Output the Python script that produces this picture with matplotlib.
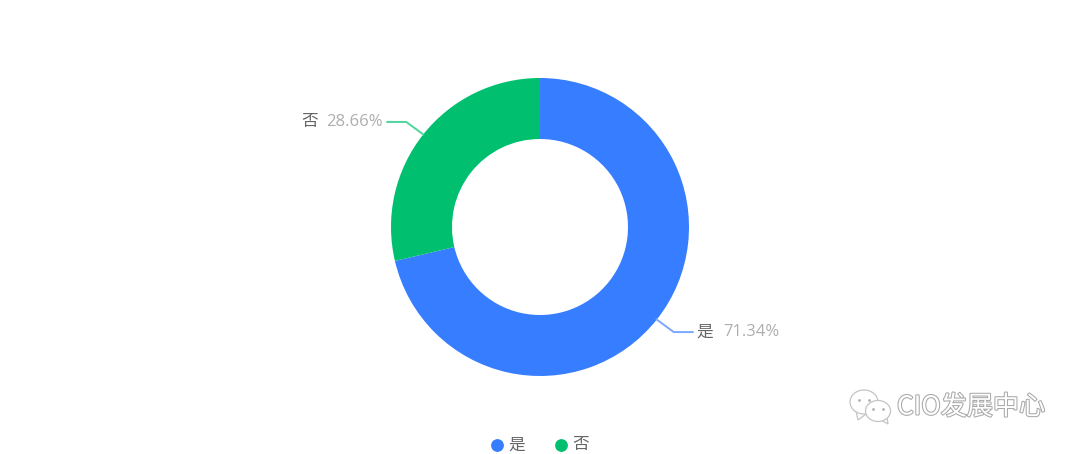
import numpy as np
import matplotlib
matplotlib.use("Agg")
import matplotlib.pyplot as plt
import matplotlib.patheffects as pe
from matplotlib.patches import Ellipse, Polygon

plt.rcParams['font.family'] = ['Noto Sans CJK SC', 'DejaVu Sans']

labels = ["是", "否"]
values = [71.34, 28.66]
colors = ["#377DFF", "#00C070"]
line_colors = ["#7AA8FF", "#4FD49B"]
watermark = "CIO发展中心"

fig = plt.figure(figsize=(10.8, 4.54), dpi=100)
ax = fig.add_axes([0, 0, 1, 1])
ax.set_xlim(0, 1080)
ax.set_ylim(454, 0)
ax.axis("off")

cx, cy, R, r = 540, 227, 149, 88

# y axis is flipped, so counterclock here looks clockwise on screen
wedges, _ = ax.pie(values, colors=colors, center=(cx, cy), radius=R,
                   startangle=-90, counterclock=True,
                   wedgeprops=dict(width=R - r, linewidth=0), frame=False)
ax.set_aspect("equal")
ax.set_xlim(0, 1080)
ax.set_ylim(454, 0)

# leader lines and labels
ang = 90.0
for name, val, lc in zip(labels, values, line_colors):
    mid = np.radians(ang - val * 3.6 / 2)
    ang -= val * 3.6
    px, py = cx + R * np.cos(mid), cy - R * np.sin(mid)
    sx = np.sign(np.cos(mid))
    qx, qy = px + 17 * sx, py + 12.5 * np.sign(-np.sin(mid))
    ax.plot([px, qx, qx + 19 * sx], [py, qy, qy], color=lc, lw=1.4, zorder=1)
    pct = f"{val:.2f}%"
    if sx > 0:
        ax.text(qx + 23, qy, name, fontsize=12, color="#666666", va="center", ha="left")
        ax.text(qx + 49, qy, pct, fontsize=12, color="#AEAEAE", va="center", ha="left",
                family=["Open Sans", "DejaVu Sans"])
    else:
        ax.text(qx - 23, qy, pct, fontsize=12, color="#AEAEAE", va="center", ha="right",
                family=["Open Sans", "DejaVu Sans"])
        ax.text(qx - 88, qy, name, fontsize=12, color="#666666", va="center", ha="right")

# legend
for x, name, c in zip([497, 561], labels, colors):
    ax.scatter([x], [445], s=85, color=c, linewidths=0, zorder=3)
    ax.text(x + 11, 445, name, fontsize=12, color="#666666", va="center", ha="left")

# watermark
fx = [pe.withStroke(linewidth=1.5, foreground="#A8A8A8")]
ax.text(897, 407, watermark, fontsize=18.8, color="white", va="center", ha="left",
        path_effects=fx, zorder=5)
for ex, ey, w, h, tail in [(864, 402, 28, 24, [(856, 411), (858, 420), (866, 414)]),
                           (878, 411, 25, 21, [(881, 420), (888, 424), (887, 417)])]:
    ax.add_patch(Polygon(tail, closed=True, fc="white", ec="#C4C4C4", lw=0.9, zorder=5))
    ax.add_patch(Ellipse((ex, ey), w, h, fc="white", ec="#C4C4C4", lw=0.9, zorder=5))
    ax.scatter([ex - 5, ex + 5], [ey - 2, ey - 2], s=4, color="#B0B0B0", linewidths=0, zorder=6)

fig.savefig("out.png", dpi=100, facecolor="white")
